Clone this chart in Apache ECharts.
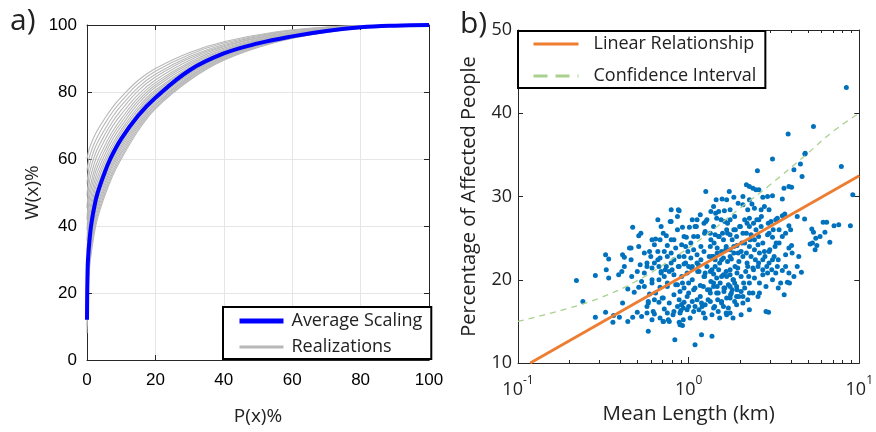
<!DOCTYPE html>
<html>
<head>
<meta charset="utf-8">
<script src="https://cdn.jsdelivr.net/npm/echarts@6/dist/echarts.min.js"></script>
<style>
  html, body { margin: 0; padding: 0; background: #fff; }
  #main { width: 876px; height: 432px; }
</style>
</head>
<body>
<div id="main"></div>
<script>
// ---- panel a) : W(x)% vs P(x)% ----
var pGrid = [0, 0.5, 1, 2, 3, 5, 7.5, 10, 15, 20, 30, 40, 55, 70, 85, 100];
var realizations = [
  [8, 24, 30, 37, 42, 48.5, 55, 60, 68.5, 75, 83.5, 89.5, 94.8, 97.8, 99.4, 100],
  [10.1, 25.5, 31.4, 38.2, 43.1, 49.4, 55.8, 60.7, 69.1, 75.5, 83.8, 89.7, 94.9, 97.9, 99.4, 100],
  [12.2, 27.1, 32.7, 39.4, 44.1, 50.4, 56.6, 61.5, 69.7, 76, 84.2, 89.9, 95, 97.9, 99.4, 100],
  [14.2, 28.6, 34.1, 40.5, 45.2, 51.3, 57.5, 62.2, 70.3, 76.4, 84.5, 90.2, 95.2, 98, 99.5, 100],
  [16.3, 30.2, 35.4, 41.7, 46.2, 52.2, 58.3, 63, 70.9, 76.9, 84.8, 90.4, 95.3, 98.1, 99.5, 100],
  [18.4, 31.7, 36.8, 42.9, 47.3, 53.2, 59.1, 63.7, 71.5, 77.4, 85.2, 90.6, 95.4, 98.1, 99.5, 100],
  [20.5, 33.2, 38.2, 44.1, 48.4, 54.1, 59.9, 64.4, 72.1, 77.9, 85.5, 90.8, 95.5, 98.2, 99.5, 100],
  [22.6, 34.8, 39.5, 45.3, 49.4, 55, 60.7, 65.2, 72.7, 78.4, 85.8, 91, 95.6, 98.2, 99.5, 100],
  [24.6, 36.3, 40.9, 46.4, 50.5, 56, 61.6, 65.9, 73.3, 78.8, 86.2, 91.3, 95.8, 98.3, 99.6, 100],
  [27.2, 38.2, 42.6, 47.9, 51.8, 57.1, 62.6, 66.8, 74.1, 79.4, 86.6, 91.5, 95.9, 98.4, 99.6, 100],
  [29.8, 40.2, 44.3, 49.4, 53.1, 58.3, 63.6, 67.8, 74.8, 80, 87, 91.8, 96.1, 98.5, 99.6, 100],
  [32.4, 42.1, 46, 50.9, 54.5, 59.5, 64.6, 68.7, 75.6, 80.6, 87.4, 92.1, 96.3, 98.5, 99.6, 100],
  [35.6, 44.4, 48, 52.6, 56, 60.8, 65.9, 69.8, 76.5, 81.4, 87.9, 92.4, 96.4, 98.6, 99.7, 100],
  [38.7, 46.7, 50.1, 54.4, 57.6, 62.2, 67.1, 70.9, 77.4, 82.1, 88.4, 92.7, 96.6, 98.7, 99.7, 100],
  [41.8, 49, 52.1, 56.2, 59.2, 63.6, 68.3, 72, 78.3, 82.8, 88.9, 93.1, 96.8, 98.8, 99.7, 100],
  [45.4, 51.7, 54.5, 58.2, 61.1, 65.3, 69.8, 73.3, 79.3, 83.6, 89.5, 93.5, 97, 98.9, 99.8, 100],
  [49.1, 54.4, 56.9, 60.3, 62.9, 66.9, 71.2, 74.6, 80.4, 84.5, 90.1, 93.8, 97.2, 99, 99.8, 100],
  [52.7, 57.1, 59.2, 62.4, 64.8, 68.5, 72.6, 75.9, 81.4, 85.3, 90.6, 94.2, 97.5, 99.2, 99.9, 100],
  [56.4, 59.8, 61.6, 64.4, 66.6, 70.2, 74.1, 77.2, 82.5, 86.2, 91.2, 94.6, 97.7, 99.3, 99.9, 100],
  [60, 62.5, 64, 66.5, 68.5, 71.8, 75.5, 78.5, 83.5, 87, 91.8, 95, 97.9, 99.4, 99.9, 100]
];
var avgP = [0, 0.2, 0.5, 1, 1.4, 2, 3, 5, 6.8, 10, 15, 20, 30, 40, 50, 60, 70, 80, 90, 100];
var avgW = [12, 28, 33, 38.5, 41.5, 45, 49.5, 55.5, 60, 66, 73, 78.3, 86.5, 91.5, 94.5, 96.6, 98.2, 99.3, 99.8, 100];

// ---- panel b) : affected people vs mean length ----
var lengthKm = [
  0.22, 0.24, 0.284, 0.284, 0.326, 0.34, 0.329, 0.34, 0.326, 0.36,
  0.363, 0.393, 0.389, 0.406, 0.41, 0.42, 0.45, 0.46, 0.47, 0.51,
  0.525, 0.44, 0.41, 0.44, 0.47, 0.50, 0.53, 0.464, 0.48, 0.51,
  0.53, 0.52, 0.57, 0.55, 0.58, 0.61, 0.63, 0.57, 0.58, 0.59,
  0.64, 0.66, 0.61, 0.64, 0.68, 0.63, 0.66, 0.60, 0.63, 0.68,
  0.72, 0.71, 0.69, 0.78, 0.79, 0.74, 0.75, 0.79, 0.82, 0.74,
  0.69, 0.72, 0.75, 0.68, 0.71, 0.67, 0.72, 0.76, 0.71, 0.83,
  0.88, 0.92, 0.86, 0.88, 0.79, 0.87, 0.92, 1.01, 0.97, 1.07,
  1.11, 1.28, 1.26, 1.18, 1.25, 0.91, 0.96, 0.99, 1.07, 0.88,
  0.79, 0.87, 0.94, 1.03, 1.12, 0.91, 0.98, 1.05, 1.15, 1.23,
  0.86, 0.94, 1.00, 1.07, 1.17, 0.82, 0.88, 0.91, 0.93, 0.90,
  0.94, 0.82, 1.00, 1.07, 1.12, 1.20, 1.34, 1.29, 1.40, 1.46,
  1.48, 1.60, 1.75, 1.82, 1.67, 1.49, 1.37, 1.19, 1.09, 1.26,
  1.45, 1.57, 1.67, 1.50, 1.62, 1.75, 1.73, 1.84, 1.46, 1.55,
  1.63, 1.69, 1.34, 1.43, 1.50, 1.58, 1.67, 1.75, 1.80, 1.88,
  1.99, 1.34, 1.41, 1.47, 1.56, 1.66, 1.75, 1.84, 1.92, 2.03,
  2.13, 1.37, 1.43, 1.52, 1.60, 1.69, 1.78, 1.87, 1.97, 2.08,
  2.20, 1.34, 1.40, 1.50, 1.56, 1.66, 1.75, 1.82, 1.92, 2.03,
  2.16, 1.40, 1.53, 1.61, 1.71, 1.80, 1.91, 2.03, 2.13, 2.27,
  1.75, 1.86, 1.97, 2.08, 2.22, 2.38, 2.55, 2.18, 2.27, 2.38,
  2.48, 2.58, 2.08, 2.22, 2.35, 2.43, 2.13, 2.27, 2.40, 2.58,
  2.18, 2.32, 2.48, 2.66, 2.27, 2.43, 2.55, 2.72, 2.32, 2.46,
  2.60, 2.78, 2.38, 2.55, 2.72, 2.87, 2.43, 2.60, 2.72, 2.84,
  2.94, 3.04, 3.31, 3.54, 2.90, 3.10, 2.72, 2.66, 2.78, 2.96,
  3.10, 3.21, 3.39, 2.96, 3.17, 3.35, 3.07, 3.24, 3.54, 3.10,
  3.46, 3.79, 3.63, 3.35, 2.53, 3.10, 3.83, 4.14, 4.52, 4.82,
  4.62, 3.62, 3.87, 4.01, 3.54, 3.66, 3.87, 3.96, 3.70, 4.33,
  3.87, 4.01, 3.70, 4.04, 4.42, 4.33, 4.58, 4.14, 3.90, 4.78,
  5.27, 5.39, 5.51, 5.64, 5.32, 5.15, 5.39, 4.80, 6.14, 6.44,
  6.72, 7.11, 7.58, 7.85, 8.87, 9.16, 8.4, 6.29, 5.89, 5.56,
  1.35, 1.44, 1.09, 1.13, 1.24, 1.35, 1.51, 1.69, 1.84, 2.01,
  2.20, 2.51, 2.67, 2.93, 3.13, 3.26, 2.99, 2.80, 2.57, 2.40,
  2.25, 2.10, 1.92, 1.76, 1.61, 1.47, 1.35, 1.24, 1.13, 1.05,
  1.18, 1.32, 1.47, 1.65, 1.84, 2.05, 2.29, 2.57, 2.90, 0.79,
  0.84, 0.94, 1.00, 0.92, 0.98, 1.05, 1.17, 1.25, 1.40, 1.56,
  1.67, 1.91, 2.03, 2.27, 0.61, 0.55, 0.50, 0.59, 0.77, 0.82,
  1.23, 1.12, 1.28, 1.43, 1.94, 2.22, 1.67, 1.86, 1.34, 1.15,
  0.57, 0.61, 0.67, 0.69, 0.73, 0.80, 0.88, 0.96, 1.04, 1.14,
  1.25, 1.37, 1.46, 1.60, 1.75, 1.83, 0.61, 0.67, 0.75, 0.84,
  0.89, 1.00, 1.09, 1.22, 1.33, 1.49, 1.63, 1.78, 0.58, 0.63,
  0.70, 0.77, 0.86, 0.91, 0.98, 1.09, 1.19, 1.30, 1.42, 1.56,
  1.71, 0.57, 0.62, 0.68, 0.75, 0.81, 0.89, 0.93, 1.02, 1.22,
  1.37, 1.52, 1.66, 0.71, 0.77, 0.89, 1.25, 1.12, 1.17, 1.05,
  1.40, 1.75, 1.86, 1.95, 2.08, 2.27, 2.96, 3.24, 3.39, 3.54,
  3.10, 2.90, 3.31, 3.70, 3.87, 2.60, 2.84, 2.27, 2.08, 1.91,
  1.75, 1.40, 1.56, 1.75, 1.95, 2.18, 2.43, 2.72, 2.96, 1.60,
  1.91, 2.08, 2.27, 1.40, 1.23, 1.03, 0.94, 0.86, 0.82, 0.75,
  0.66, 0.55, 0.51, 0.46, 0.42
];
var affectedPct = [
  19.9, 17.4, 20.5, 15.5, 23.0, 22.5, 21.2, 20.2, 16.1, 14.9,
  15.7, 15.5, 20.6, 21.0, 23.0, 22.7, 23.8, 23.8, 26.3, 25.3,
  25.6, 18.9, 17.2, 15.0, 15.5, 16.1, 15.6, 20.4, 18.5, 19.1,
  19.8, 21.8, 21.6, 20.8, 13.8, 15.2, 15.9, 16.8, 17.4, 18.3,
  18.4, 27.2, 24.8, 24.9, 24.8, 24.2, 23.4, 22.8, 22.0, 22.6,
  23.4, 25.6, 26.4, 27.0, 27.0, 25.3, 24.1, 23.2, 22.4, 21.6,
  21.0, 20.4, 19.6, 19.1, 17.8, 17.3, 16.5, 15.2, 15.0, 12.8,
  14.9, 14.5, 27.6, 28.3, 28.4, 28.4, 26.3, 26.3, 25.1, 25.2,
  26.4, 27.2, 27.0, 24.0, 25.8, 24.2, 24.0, 23.4, 23.6, 22.8,
  22.0, 21.6, 21.9, 22.6, 22.0, 20.4, 20.8, 20.0, 21.0, 20.4,
  19.4, 19.0, 18.4, 18.8, 19.3, 18.2, 17.6, 17.0, 16.6, 16.3,
  17.3, 16.2, 16.8, 16.2, 17.6, 16.8, 17.4, 18.8, 19.6, 18.4,
  17.6, 16.8, 16.0, 15.4, 15.8, 16.2, 13.2, 13.4, 12.2, 30.6,
  29.6, 29.7, 29.6, 28.2, 28.3, 28.4, 30.6, 29.9, 27.4, 27.2,
  27.0, 26.8, 25.6, 25.4, 25.2, 25.6, 26.0, 25.4, 24.8, 26.0,
  26.4, 24.0, 24.4, 23.8, 23.4, 24.0, 23.6, 23.2, 24.1, 23.4,
  24.4, 22.8, 22.4, 22.0, 22.6, 22.2, 22.5, 21.6, 22.2, 22.8,
  22.0, 21.0, 20.7, 21.2, 20.4, 21.0, 20.6, 20.0, 20.8, 20.4,
  21.0, 19.2, 19.6, 19.0, 19.4, 18.8, 19.2, 18.6, 19.0, 19.6,
  17.8, 17.4, 18.0, 17.2, 17.6, 18.4, 18.0, 31.4, 31.2, 31.0,
  30.8, 30.8, 29.0, 28.4, 29.1, 28.6, 27.2, 27.4, 26.8, 27.2,
  25.6, 25.4, 26.0, 26.4, 24.0, 24.8, 24.2, 24.4, 22.8, 22.4,
  23.2, 23.4, 21.4, 21.6, 21.2, 21.6, 20.2, 19.6, 20.6, 16.2,
  16.1, 27.0, 27.4, 27.7, 30.0, 30.1, 29.9, 28.4, 28.8, 25.6,
  25.1, 24.0, 24.4, 23.4, 22.8, 22.4, 21.2, 20.8, 21.1, 20.0,
  19.6, 19.7, 18.2, 19.0, 33.1, 34.5, 37.5, 33.2, 33.9, 35.2,
  32.4, 31.0, 31.2, 31.1, 29.7, 27.9, 26.5, 26.0, 25.6, 27.6,
  23.8, 24.1, 23.0, 23.2, 22.8, 21.6, 20.9, 20.4, 19.6, 27.3,
  26.1, 25.7, 23.6, 24.1, 24.4, 24.3, 38.4, 35.1, 26.9, 26.9,
  24.5, 26.5, 26.6, 33.6, 26.5, 30.2, 43.1, 25.7, 25.2, 25.0,
  28.2, 28.0, 26.4, 25.2, 25.6, 24.8, 25.2, 25.6, 26.0, 26.4,
  26.8, 27.2, 27.6, 26.8, 26.0, 24.4, 23.6, 22.8, 22.0, 21.2,
  20.4, 19.6, 18.8, 18.2, 18.6, 19.2, 19.8, 20.4, 21.0, 21.6,
  22.4, 22.8, 23.2, 23.6, 24.0, 24.4, 24.8, 25.2, 25.4, 24.8,
  23.8, 22.8, 21.6, 19.6, 18.0, 17.4, 18.0, 17.0, 16.6, 17.2,
  17.8, 17.0, 15.8, 16.4, 20.0, 19.2, 21.0, 23.4, 21.0, 20.6,
  23.4, 23.0, 21.6, 21.6, 21.4, 21.6, 20.4, 19.6, 18.4, 16.4,
  22.0, 21.4, 21.6, 20.8, 21.2, 21.2, 21.6, 22.0, 21.4, 21.8,
  20.8, 21.2, 20.2, 20.6, 21.2, 20.0, 19.6, 20.0, 19.2, 19.4,
  18.6, 19.6, 19.0, 19.2, 18.8, 18.4, 19.0, 18.4, 17.2, 17.6,
  17.8, 17.2, 16.8, 17.0, 16.4, 16.8, 17.2, 17.6, 16.8, 17.4,
  16.6, 16.0, 16.2, 15.4, 16.0, 15.8, 16.0, 15.2, 15.4, 16.0,
  15.8, 15.4, 16.0, 15.0, 15.0, 14.6, 15.4, 27.2, 27.8, 27.2,
  28.8, 27.2, 27.6, 29.2, 30.0, 29.6, 28.4, 27.2, 26.0, 25.2,
  22.4, 20.8, 21.6, 21.6, 20.8, 18.4, 19.2, 18.4, 18.0, 18.0,
  19.2, 22.8, 22.4, 22.8, 23.2, 23.2, 23.6, 22.4, 22.0, 24.8,
  25.2, 25.6, 26.4, 26.4, 26.8, 24.4, 25.2, 26.0, 24.8, 22.8,
  22.4, 23.2, 24.0, 22.4, 21.6
];
var fitX = [0.118, 10];
var fitY = [10, 32.5];
var confX = [0.1, 0.2, 0.3, 0.5, 0.8, 1.2, 2, 3, 5, 7, 10];
var confY = [15.0, 16.6, 17.8, 19.9, 22.5, 25.0, 28.6, 31.4, 35.2, 37.8, 40.0];
var minorTicks = [0.2, 0.3, 0.4, 0.5, 0.6, 0.7, 0.8, 0.9, 2, 3, 4, 5, 6, 7, 8, 9];

function zip(xs, ys) {
  return xs.map(function (x, i) { return [x, ys[i]]; });
}

var helv = '"Liberation Sans", Arial, sans-serif';
var soft = '"Open Sans", "Noto Sans", sans-serif';
var axisCol = '#262626';

var chart = echarts.init(document.getElementById('main'));

var series = [];
realizations.forEach(function (r) {
  series.push({
    name: 'Realizations', type: 'line', xAxisIndex: 0, yAxisIndex: 0,
    data: zip(pGrid, r), smooth: 0.4, showSymbol: false, symbol: 'none',
    lineStyle: { color: '#b8b8b8', width: 1.1 }, itemStyle: { color: '#b8b8b8' }, silent: true, z: 2
  });
});
series.push({
  name: 'Average Scaling', type: 'line', xAxisIndex: 0, yAxisIndex: 0,
  data: zip(avgP, avgW), smooth: 0.4, showSymbol: false, symbol: 'none',
  lineStyle: { color: '#0000ff', width: 4 }, itemStyle: { color: '#0000ff' }, z: 3
});
series.push({
  name: 'points', type: 'scatter', xAxisIndex: 2, yAxisIndex: 2,
  data: zip(lengthKm, affectedPct), symbolSize: 5,
  itemStyle: { color: '#0072BD', opacity: 1 }, z: 2
});
series.push({
  name: 'Linear Relationship', type: 'line', xAxisIndex: 2, yAxisIndex: 2,
  data: zip(fitX, fitY), showSymbol: false, symbol: 'none',
  lineStyle: { color: '#ED7D31', width: 2.8 }, itemStyle: { color: '#ED7D31' }, z: 4
});
series.push({
  name: 'Confidence Interval', type: 'line', xAxisIndex: 2, yAxisIndex: 2,
  data: zip(confX, confY), smooth: true, showSymbol: false, symbol: 'none',
  lineStyle: { color: '#A9D18E', width: 1.3, type: [6, 5] }, itemStyle: { color: '#A9D18E' }, z: 3
});

function boxAxis(grid, pos, extra) {
  var a = {
    gridIndex: grid, position: pos,
    axisLine: { show: true, onZero: false, lineStyle: { color: axisCol, width: 1 } },
    axisTick: { show: true, inside: true, length: 5, lineStyle: { color: axisCol } },
    axisLabel: { show: false }, splitLine: { show: false }
  };
  for (var k in extra) a[k] = extra[k];
  return a;
}

var option = {
  animation: false,
  backgroundColor: '#fff',
  grid: [
    { left: 87, top: 25, width: 342, height: 335 },
    { left: 518, top: 30, width: 347, height: 333 }
  ],
  xAxis: [
    boxAxis(0, 'bottom', {
      type: 'value', min: 0, max: 100, interval: 20,
      axisLabel: { show: true, margin: 12, fontSize: 17, fontFamily: helv, color: '#000' },
      splitLine: { show: true, lineStyle: { color: '#e6e6e6', width: 1 } },
      name: 'P(x)%', nameLocation: 'middle', nameGap: 47,
      nameTextStyle: { fontSize: 19, fontFamily: soft, color: '#222', verticalAlign: 'top' }
    }),
    boxAxis(0, 'top', { type: 'value', min: 0, max: 100, interval: 20 }),
    boxAxis(1, 'bottom', {
      type: 'log', logBase: 10, min: 0.1, max: 10,
      axisTick: { show: true, inside: true, length: 6, lineStyle: { color: axisCol } },
      axisLabel: {
        show: true, margin: 12,
        formatter: function (v) { return '{b|10}{s|' + Math.round(Math.log10(v)) + '}'; },
        rich: {
          b: { fontSize: 18, fontFamily: soft, color: '#222', lineHeight: 24, verticalAlign: 'bottom' },
          s: { fontSize: 12, fontFamily: soft, color: '#222', lineHeight: 12, verticalAlign: 'top' }
        }
      },
      name: 'Mean Length (km)', nameLocation: 'middle', nameGap: 39,
      nameTextStyle: { fontSize: 20.5, fontFamily: soft, color: '#222', verticalAlign: 'top' }
    }),
    boxAxis(1, 'top', { type: 'log', logBase: 10, min: 0.1, max: 10,
      axisTick: { show: true, inside: true, length: 6, lineStyle: { color: axisCol } } }),
    boxAxis(1, 'bottom', { type: 'log', logBase: 10, min: 0.1, max: 10,
      axisLine: { show: false },
      axisTick: { show: true, inside: true, length: 3, customValues: minorTicks, lineStyle: { color: axisCol } } }),
    boxAxis(1, 'top', { type: 'log', logBase: 10, min: 0.1, max: 10,
      axisLine: { show: false },
      axisTick: { show: true, inside: true, length: 3, customValues: minorTicks, lineStyle: { color: axisCol } } })
  ],
  yAxis: [
    boxAxis(0, 'left', {
      type: 'value', min: 0, max: 100, interval: 20,
      axisLabel: { show: true, margin: 10, fontSize: 17, fontFamily: helv, color: '#000' },
      splitLine: { show: true, lineStyle: { color: '#e6e6e6', width: 1 } },
      name: 'W(x)%', nameLocation: 'middle', nameGap: 45,
      nameTextStyle: { fontSize: 19, fontFamily: soft, color: '#222' }
    }),
    boxAxis(0, 'right', { type: 'value', min: 0, max: 100, interval: 20 }),
    boxAxis(1, 'left', {
      type: 'value', min: 10, max: 50, interval: 10,
      axisLabel: { show: true, margin: 6, fontSize: 18, fontFamily: soft, color: '#222' },
      name: 'Percentage of Affected People', nameLocation: 'middle', nameGap: 39,
      nameTextStyle: { fontSize: 20, fontFamily: soft, color: '#222' }
    }),
    boxAxis(1, 'right', { type: 'value', min: 10, max: 50, interval: 10 })
  ],
  legend: [
    {
      data: [
        { name: 'Average Scaling', lineStyle: { width: 5 } },
        { name: 'Realizations', lineStyle: { width: 3 } }
      ],
      orient: 'vertical',
      left: 223, top: 307, padding: [5, 9, 3, 14], itemGap: 8,
      itemWidth: 44, itemHeight: 14, backgroundColor: '#fff',
      borderColor: '#000', borderWidth: 2, borderRadius: 0,
      itemStyle: { opacity: 0, borderWidth: 0 },
      textStyle: { fontSize: 18, fontFamily: soft, color: '#222', padding: [0, 0, 0, 3] }
    },
    {
      data: [
        { name: 'Linear Relationship', lineStyle: { width: 3 } },
        { name: 'Confidence Interval', lineStyle: { width: 3, type: [14, 8] } }
      ],
      orient: 'vertical',
      left: 518, top: 31, padding: [4, 9, 3, 14], itemGap: 14,
      itemWidth: 45, itemHeight: 14, backgroundColor: '#fff',
      borderColor: '#000', borderWidth: 2, borderRadius: 0,
      itemStyle: { opacity: 0, borderWidth: 0 },
      textStyle: { fontSize: 18, fontFamily: soft, color: '#222', padding: [0, 0, 0, 10] }
    }
  ],
  graphic: [
    { type: 'text', left: 10, top: 6, style: { text: 'a)', fontSize: 30, fontFamily: soft, fill: '#222' } },
    { type: 'text', left: 460, top: 9, style: { text: 'b)', fontSize: 30, fontFamily: soft, fill: '#222' } }
  ],
  series: series
};

chart.setOption(option);
</script>
</body>
</html>
